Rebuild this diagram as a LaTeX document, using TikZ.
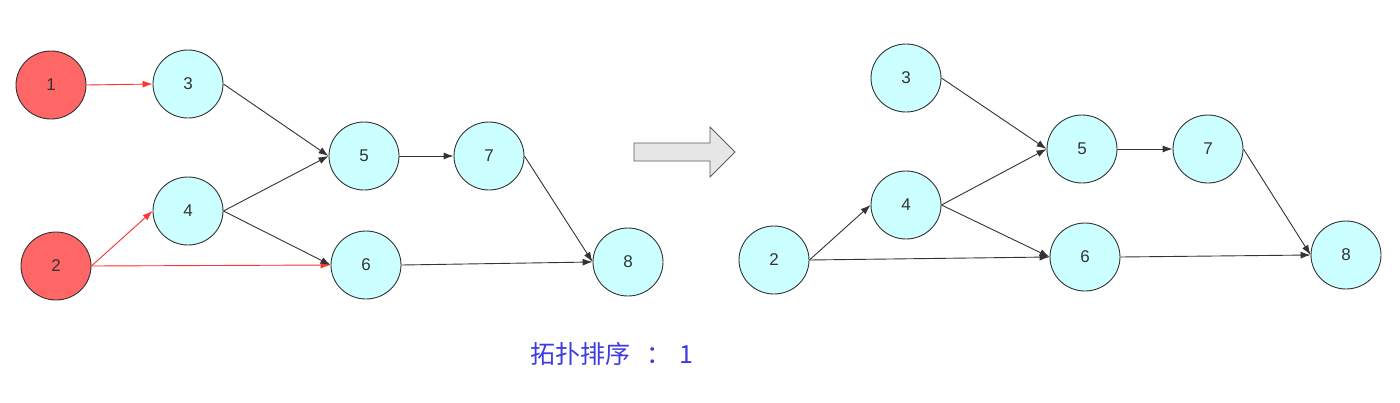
\documentclass[tikz,border=0pt]{standalone}
\usepackage{fontspec}
\setmainfont{Liberation Sans}
\newfontfamily\cjk{Noto Sans CJK SC}
\usetikzlibrary{arrows.meta,shapes.geometric}
\definecolor{cyanfill}{HTML}{CCFFFF}
\definecolor{redfill}{HTML}{FF6666}
\definecolor{edgedark}{HTML}{333333}
\definecolor{edgered}{HTML}{FF3333}
\definecolor{txtblue}{RGB}{60,60,225}
\definecolor{arrowfill}{HTML}{E6E6E6}
\tikzset{
  vtx/.style={ellipse,draw=edgedark,line width=0.9pt,minimum width=70pt,minimum height=68pt,inner sep=0pt,font=\fontsize{17}{17}\selectfont,text=edgedark},
  cvtx/.style={vtx,fill=cyanfill},
  rvtx/.style={vtx,fill=redfill},
  edge/.style={draw=edgedark,line width=0.9pt,-{Latex[length=10pt,width=7pt]}},
  redge/.style={edge,draw=edgered,fill=edgered},
}
\begin{document}
\begin{tikzpicture}[x=1pt,y=-1pt]
\useasboundingbox (0,0) rectangle (1400,402);
% left graph
\node[rvtx] (L1) at (51,85) {1};
\node[cvtx] (L3) at (188,84) {3};
\node[cvtx] (L4) at (188,211) {4};
\node[rvtx] (L2) at (56,266) {2};
\node[cvtx] (L5) at (364,156) {5};
\node[cvtx] (L6) at (366,265) {6};
\node[cvtx] (L7) at (489,156) {7};
\node[cvtx] (L8) at (628,262) {8};
\draw[redge] (L1.east) -- (L3.west);
\draw[redge] (L2.east) -- (L4.west);
\draw[redge] (L2.east) -- (L6.west);
\draw[edge] (L3.east) -- (L5.west);
\draw[edge] (L4.east) -- (L5.west);
\draw[edge] (L4.east) -- (L6.west);
\draw[edge] (L5.east) -- (L7.west);
\draw[edge] (L7.east) -- (L8.west);
\draw[edge] (L6.east) -- (L8.west);
% block arrow
\draw[draw=edgedark!80,line width=0.9pt,fill=arrowfill]
  (634,143) -- (710,143) -- (710,127) -- (735,152) -- (710,177) -- (710,161) -- (634,161) -- cycle;
% right graph
\node[cvtx] (R3) at (906,78) {3};
\node[cvtx] (R4) at (906,205) {4};
\node[cvtx] (R2) at (774,260) {2};
\node[cvtx] (R5) at (1082,149) {5};
\node[cvtx] (R6) at (1085,257) {6};
\node[cvtx] (R7) at (1208,149) {7};
\node[cvtx] (R8) at (1346,255) {8};
\draw[edge] (R2.east) -- (R4.west);
\draw[edge] (R2.east) -- (R6.west);
\draw[edge] (R3.east) -- (R5.west);
\draw[edge] (R4.east) -- (R5.west);
\draw[edge] (R4.east) -- (R6.west);
\draw[edge] (R5.east) -- (R7.west);
\draw[edge] (R7.east) -- (R8.west);
\draw[edge] (R6.east) -- (R8.west);
% caption
\node[anchor=west,inner sep=0pt,text=txtblue,font=\cjk\fontsize{25}{25}\selectfont] (cap) at (530,354) {拓扑排序\hspace{16pt}：\hspace{8pt}1};
\end{tikzpicture}
\end{document}
